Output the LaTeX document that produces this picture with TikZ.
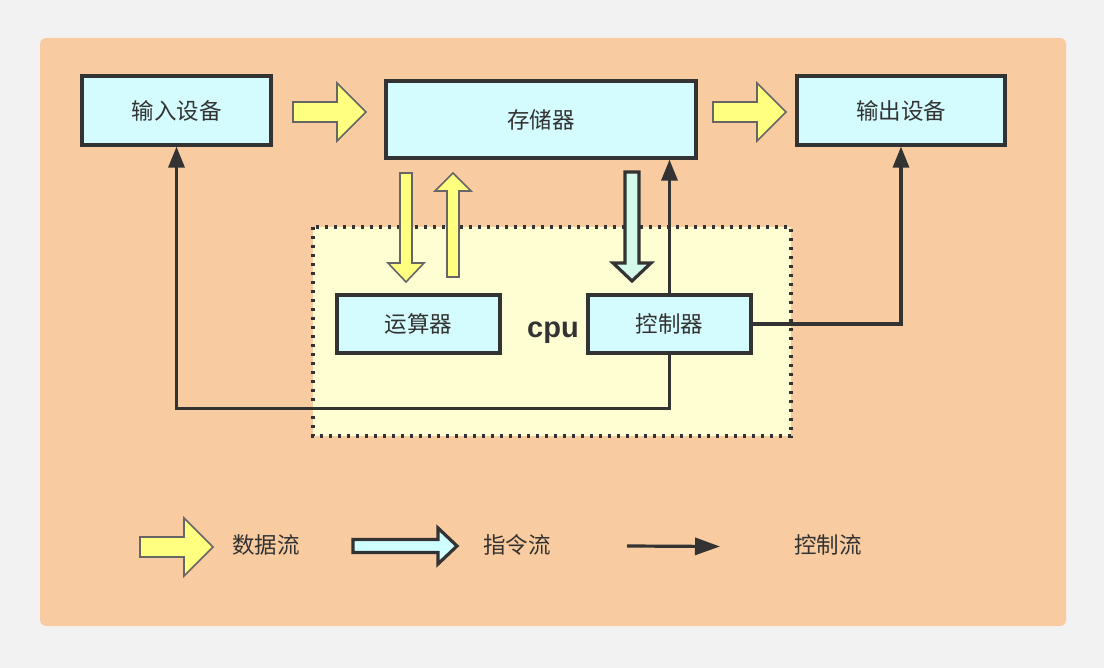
\documentclass[tikz,border=0pt]{standalone}
\usepackage{fontspec}
\setmainfont{Liberation Sans}
\newfontfamily\cjk{Noto Sans CJK SC}
\usetikzlibrary{arrows.meta}
\definecolor{pagebg}{HTML}{F2F2F2}
\definecolor{panel}{HTML}{F8CBA0}
\definecolor{boxfill}{HTML}{D4FBFD}
\definecolor{cpufill}{HTML}{FFFDD2}
\definecolor{dataf}{HTML}{FFFF80}
\definecolor{datab}{HTML}{666666}
\definecolor{instf}{HTML}{D3F9EA}
\definecolor{instlf}{HTML}{CFFFFF}
\definecolor{ink}{HTML}{333333}
\tikzset{
  unitbox/.style={draw=ink, line width=3.2pt, fill=boxfill, inner sep=0pt,
    font=\cjk\fontsize{22.5}{22.5}\selectfont, text=ink},
  dataarrow/.style={draw=datab, line width=1.6pt, fill=dataf, line join=miter},
  instarrow/.style={draw=ink, line width=3.2pt, fill=instf, line join=miter},
  ctrlline/.style={draw=ink, line width=3.2pt, -{Triangle[length=21pt,width=16pt]}},
  legendtext/.style={font=\cjk\fontsize{22.5}{22.5}\selectfont, text=ink}
}
\begin{document}
\begin{tikzpicture}[x=1pt,y=-1pt]
\useasboundingbox (0,0) rectangle (1104,668);
\fill[pagebg] (0,0) rectangle (1104,668);
\fill[panel, rounded corners=6pt] (40,38) rectangle (1066,626);
% cpu region
\draw[fill=cpufill, draw=ink, line width=3.2pt, dash pattern=on 3.2pt off 5.8pt] (313,227) rectangle (791,436);
\node[font=\bfseries\fontsize{29}{29}\selectfont, text=ink] (cpu) at (553,333) {cpu};
% units
\node[unitbox, minimum width=189pt, minimum height=69pt] (in) at (176.5,110.5) {输入设备};
\node[unitbox, minimum width=310pt, minimum height=77pt] (mem) at (541,119.5) {存储器};
\node[unitbox, minimum width=208pt, minimum height=69pt] (out) at (901,110.5) {输出设备};
\node[unitbox, minimum width=163pt, minimum height=58pt] (alu) at (418.5,324) {运算器};
\node[unitbox, minimum width=163pt, minimum height=58pt] (ctrl) at (669.5,324) {控制器};
% data flow arrows
\draw[dataarrow] (293,102) -- (337,102) -- (337,83) -- (366,112) -- (337,141) -- (337,122) -- (293,122) -- cycle;
\draw[dataarrow] (713,102) -- (757,102) -- (757,83) -- (786,112) -- (757,141) -- (757,122) -- (713,122) -- cycle;
\draw[dataarrow] (400,173) -- (412,173) -- (412,263) -- (424,263) -- (406,282) -- (388,263) -- (400,263) -- cycle;
\draw[dataarrow] (447,277) -- (459,277) -- (459,191) -- (471,191) -- (453,173) -- (435,191) -- (447,191) -- cycle;
% instruction flow arrow
\draw[instarrow] (625,172) -- (639,172) -- (639,263) -- (651,263) -- (632,281) -- (613,263) -- (625,263) -- cycle;
% control flow
\draw[ctrlline] (ctrl.north) -- (ctrl.north |- mem.south);
\draw[ctrlline] (ctrl.south) -- ++(0,54) -| (in.south);
\draw[ctrlline] (ctrl.east) -| (out.south);
% legend
\draw[dataarrow] (140,537) -- (184,537) -- (184,518) -- (213,547) -- (184,576) -- (184,557) -- (140,557) -- cycle;
\node[legendtext] (ldata) at (266,545) {数据流};
\draw[instarrow, fill=instlf] (353,539.5) -- (438,539.5) -- (438,528) -- (457,546) -- (438,564) -- (438,552.5) -- (353,552.5) -- cycle;
\node[legendtext] (linst) at (517,545) {指令流};
\coordinate (lc1) at (627,546);
\coordinate (lc2) at (720,546.5);
\draw[draw=ink, line width=3.2pt, -{Triangle[length=25pt,width=17pt]}] (lc1) -- (lc2);
\node[legendtext] (lctrl) at (828,545) {控制流};
\end{tikzpicture}
\end{document}
